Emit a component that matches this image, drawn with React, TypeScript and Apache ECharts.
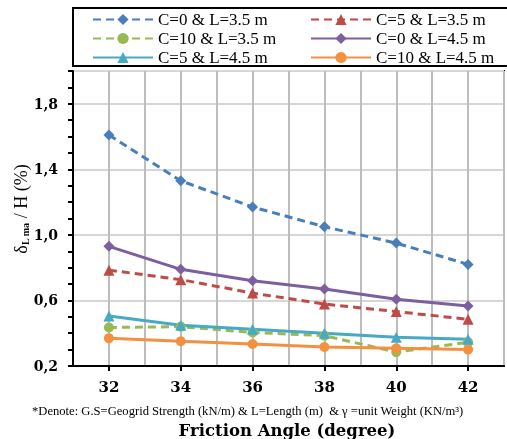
import React, { useEffect, useRef } from "react";
import * as echarts from "echarts";

const angles = [32, 34, 36, 38, 40, 42];
const seriesNames = [
  "C=0 & L=3.5 m",
  "C=5 & L=3.5 m",
  "C=10 & L=3.5 m",
  "C=0 & L=4.5 m",
  "C=5 & L=4.5 m",
  "C=10 & L=4.5 m",
];
const c0L35 = [1.61, 1.33, 1.17, 1.05, 0.95, 0.82];
const c5L35 = [0.785, 0.727, 0.645, 0.578, 0.532, 0.485];
const c10L35 = [0.435, 0.44, 0.405, 0.385, 0.285, 0.345];
const c0L45 = [0.93, 0.79, 0.72, 0.67, 0.607, 0.566];
const c5L45 = [0.505, 0.448, 0.424, 0.4, 0.375, 0.363];
const c10L45 = [0.37, 0.351, 0.334, 0.316, 0.308, 0.3];
const yLabelValues = [0.2, 0.6, 1.0, 1.4, 1.8];
const xLabelValues = [32, 34, 36, 38, 40, 42];

const serif = "Liberation Serif";
const boldSerif = "DejaVu Serif";

export default function App() {
  const ref = useRef<HTMLDivElement>(null);
  useEffect(() => {
    if (!ref.current) return;
    const chart = echarts.init(ref.current, undefined, { renderer: "svg" });
    const values = [c0L35, c5L35, c10L35, c0L45, c5L45, c10L45];
    const colors = ["#4A7EBB", "#BE4B48", "#98B954", "#7D5FA0", "#46AAC5", "#F39140"];
    const symbols = ["diamond", "triangle", "circle", "diamond", "triangle", "circle"];
    const dashed = [true, true, true, false, false, false];
    const series = values.map((vals, i) => ({
      name: seriesNames[i],
      type: "line",
      data: vals.map((v, j) => [angles[j], v]),
      symbol: symbols[i],
      symbolSize: symbols[i] === "circle" ? 10 : 11,
      color: colors[i],
      lineStyle: { color: colors[i], width: 3, type: dashed[i] ? [8, 5] : "solid" },
      itemStyle: { color: colors[i] },
      xAxisIndex: 0,
      yAxisIndex: 0,
      z: 5,
    }));
    const isLabel = (v: number, list: number[]) => list.some((l) => Math.abs(l - v) < 1e-6);
    const legendText = { fontFamily: serif, fontSize: 17, color: "#000", lineHeight: 19 };
    chart.setOption({
      animation: false,
      grid: {
        left: 73,
        top: 71,
        right: -3,
        bottom: 73,
        show: true,
        borderColor: "#000",
        borderWidth: 2,
      },
      legend: [
        {
          orient: "vertical",
          left: 92,
          top: 10,
          padding: 0,
          itemWidth: 60,
          itemHeight: 14,
          itemGap: 0,
          data: [seriesNames[0], seriesNames[2], seriesNames[4]],
          textStyle: legendText,
        },
        {
          orient: "vertical",
          left: 310,
          top: 10,
          padding: 0,
          itemWidth: 60,
          itemHeight: 14,
          itemGap: 0,
          data: [seriesNames[1], seriesNames[3], seriesNames[5]],
          textStyle: legendText,
        },
      ],
      xAxis: [
        {
          type: "value",
          min: 31,
          max: 43,
          interval: 1,
          axisLine: { lineStyle: { color: "#000", width: 2 } },
          axisTick: { show: false },
          splitLine: { show: true, lineStyle: { color: "#BDBDBD", width: 2 } },
          axisLabel: {
            margin: 13,
            fontFamily: boldSerif,
            fontWeight: "bold",
            fontSize: 15,
            color: "#000",
            formatter: (v: number) => (isLabel(v, xLabelValues) ? String(v) : ""),
          },
        },
        {
          type: "value",
          min: 31,
          max: 43,
          interval: 1,
          position: "bottom",
          axisLine: { show: false },
          axisTick: { show: true, length: 5, customValues: xLabelValues, lineStyle: { color: "#000", width: 2 } },
          splitLine: { show: false },
          axisLabel: { show: false },
        },
      ],
      yAxis: [
        {
          type: "value",
          min: 0.2,
          max: 2.0,
          interval: 0.1,
          axisLine: { show: true, lineStyle: { color: "#000", width: 2 } },
          axisTick: { show: true, length: 5, lineStyle: { color: "#000", width: 2 } },
          splitLine: { show: false },
          axisLabel: {
            margin: 15,
            fontFamily: boldSerif,
            fontWeight: "bold",
            fontSize: 14,
            color: "#000",
            formatter: (v: number) =>
              isLabel(v, yLabelValues) ? v.toFixed(1).replace(".", ",") : "",
          },
        },
        {
          type: "value",
          min: 0.2,
          max: 2.0,
          interval: 0.4,
          axisLine: { show: false },
          axisTick: { show: false },
          axisLabel: { show: false },
          splitLine: { show: true, lineStyle: { color: "#D6D6D6", width: 2 } },
        },
      ],
      series,
      graphic: [
        {
          type: "rect",
          shape: { x: 73, y: 8, width: 445, height: 58 },
          style: { fill: "none", stroke: "#000", lineWidth: 2 },
          z: 1,
        },
        {
          type: "text",
          x: 21,
          y: 209,
          rotation: Math.PI / 2,
          style: {
            text: "{d|δ}{s|L ma}{n| / H (%)}",
            align: "center",
            verticalAlign: "middle",
            rich: {
              d: { fontFamily: serif, fontSize: 18, fill: "#000" },
              s: { fontFamily: serif, fontSize: 10, fontWeight: "bold", fill: "#000", padding: [8, 0, 0, 0] },
              n: { fontFamily: serif, fontSize: 18, fill: "#000" },
            },
          },
        },
        {
          type: "text",
          x: 32,
          y: 411,
          style: {
            text: "*Denote: G.S=Geogrid Strength (kN/m) & L=Length (m)  & γ =unit Weight (KN/m³)",
            fontFamily: serif,
            fontSize: 12.6,
            fill: "#000",
            verticalAlign: "middle",
          },
        },
        {
          type: "text",
          x: 287,
          y: 430,
          style: {
            text: "Friction Angle (degree)",
            fontFamily: boldSerif,
            fontWeight: "bold",
            fontSize: 16.5,
            fill: "#000",
            align: "center",
            verticalAlign: "middle",
          },
        },
      ],
    });
    return () => chart.dispose();
  }, []);
  return (
    <div
      ref={ref}
      style={{ position: "fixed", left: 0, top: 0, width: 507, height: 439 }}
    />
  );
}
